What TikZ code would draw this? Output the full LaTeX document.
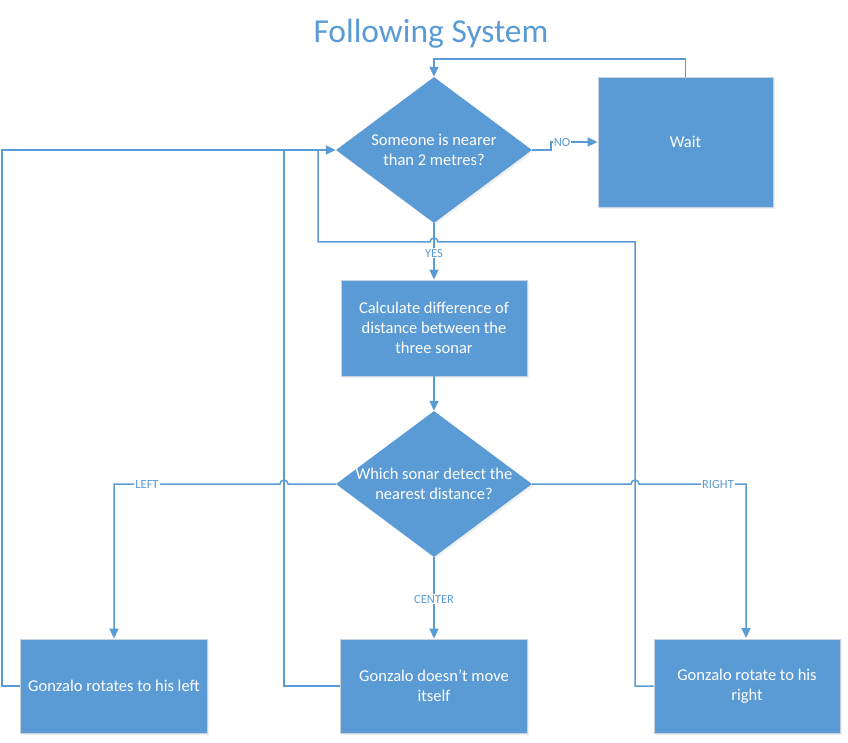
\documentclass[tikz,border=0pt]{standalone}
\usepackage{fontspec}
\setmainfont{Carlito}
\usetikzlibrary{shapes.geometric,arrows.meta,shadows}
\definecolor{obl}{HTML}{5B9BD5}
\definecolor{oedge}{HTML}{C9D3DD}
\tikzset{
  x=1pt,y=-1pt,
  boxstyle/.style={rectangle,fill=obl,draw=oedge,line width=0.8pt,text=white,
    inner sep=0pt,align=center,font=\fontsize{16.5}{20}\selectfont,
    drop shadow={opacity=0.12,shadow xshift=1.5pt,shadow yshift=-2pt}},
  diastyle/.style={diamond,fill=obl,inner sep=0pt,minimum width=196pt,minimum height=146pt,
    drop shadow={opacity=0.12,shadow xshift=1.5pt,shadow yshift=-2pt}},
  diatext/.style={text=white,align=center,font=\fontsize{16.5}{20}\selectfont},
  conn/.style={draw=obl,line width=1.5pt},
  arr/.style={conn,-{Triangle[length=10pt,width=9pt]}},
  lbl/.style={fill=white,text=obl,inner sep=1pt,font=\fontsize{12.5}{14}\selectfont},
}
\begin{document}
\begin{tikzpicture}
\useasboundingbox (0,0) rectangle (848,743);
\node[text=obl,font=\fontsize{33.5}{40}\selectfont] (title) at (431,34) {Following System};

\node[diastyle] (d1) at (434,150) {};
\node[diatext] (d1t) at (d1) {Someone is nearer\\than 2 metres?};
\node[boxstyle,minimum width=175pt,minimum height=130pt] (wait) at (685.5,142) {Wait};
\node[boxstyle,minimum width=186pt,minimum height=96pt] (calc) at (434,328) {Calculate difference of\\distance between the\\three sonar};
\node[diastyle] (d2) at (434,484) {};
\node[diatext] (d2t) at (d2) {Which sonar detect the\\nearest distance?};
\node[boxstyle,minimum width=187pt,minimum height=94pt] (bl) at (114,686) {Gonzalo rotates to his left};
\node[boxstyle,minimum width=187pt,minimum height=94pt] (bc) at (434,686) {Gonzalo doesn’t move\\itself};
\node[boxstyle,minimum width=186pt,minimum height=94pt] (br) at (747,686) {Gonzalo rotate to his\\right};

% wait loop
\draw[arr] (wait.north) -- (685.5,59) -- (434,59) -- (d1.north);
% NO
\draw[arr] (d1.east) -- (551,150) -- (551,142) -- (wait.west);
\node[lbl] (nolbl) at (562,142) {NO};
% YES
\draw[arr] (d1.south) -- (calc.north);
\node[lbl] (yeslbl) at (434,253) {YES};
% calc to d2
\draw[arr] (calc.south) -- (d2.north);
% LEFT
\draw[arr] (d2.west) -- (288,484) arc(0:180:4pt) -- (114,484) -- (bl.north);
\node[lbl] (leftlbl) at (147,484) {LEFT};
% RIGHT
\draw[arr] (d2.east) -- (631,484) arc(180:0:4pt) -- (746,484) -- (746,638);
\node[lbl] (rightlbl) at (718,484) {RIGHT};
% CENTER
\draw[arr] (d2.south) -- (bc.north);
\node[lbl] (centerlbl) at (434,599) {CENTER};
% feedback
\draw[arr] (bl.west) -- (2,686) -- (2,150) -- (d1.west);
\draw[conn] (bc.west) -- (284,686) -- (284,150);
\draw[conn] (br.west) -- (635,686) -- (635,242) -- (438,242) arc(0:180:4pt) -- (318,242) -- (318,150);
\end{tikzpicture}
\end{document}
